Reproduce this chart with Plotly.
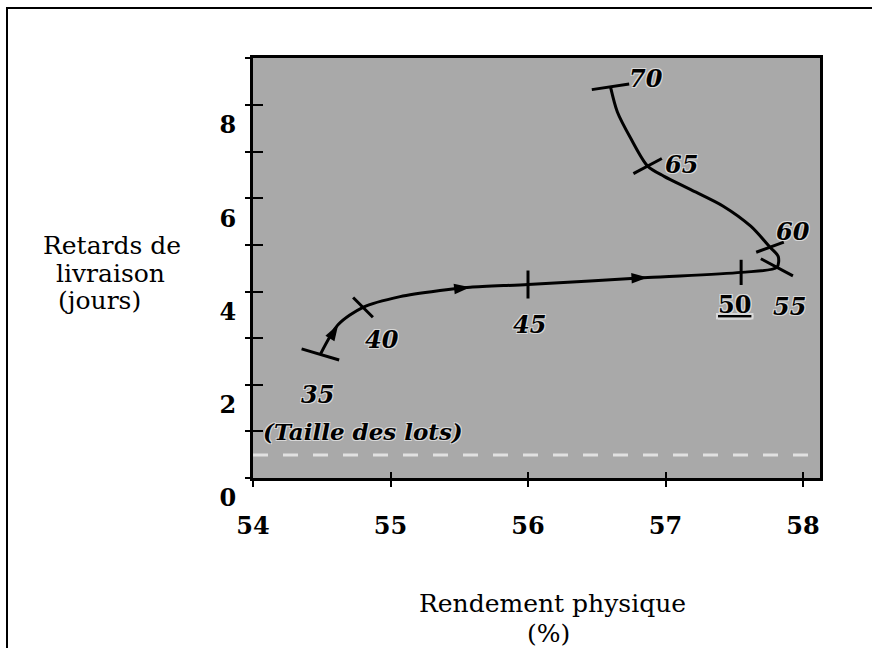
import plotly.graph_objects as go

# Lot sizes marked along the trajectory and the operating point for each one
lot_sizes = [35, 40, 45, 50, 55, 60, 65, 70]
rendement = [54.49, 54.80, 56.00, 57.55, 57.81, 57.76, 56.87, 56.60]
retards = [2.65, 3.66, 4.15, 4.41, 4.52, 4.95, 6.69, 8.39]

# Points traced along the trajectory (35 -> 70)
curve_x = [54.49, 54.62, 54.80, 55.07, 55.36, 55.58, 56.00, 56.87, 57.55,
           57.81, 57.82, 57.76, 57.62, 57.42, 57.18, 56.99, 56.87, 56.75,
           56.65, 56.60]
curve_y = [2.65, 3.29, 3.66, 3.89, 4.02, 4.09, 4.15, 4.30, 4.41,
           4.52, 4.75, 4.95, 5.40, 5.83, 6.19, 6.47, 6.69, 7.27,
           7.85, 8.39]

# Direction arrows on the trajectory
arrow_x = [54.62, 55.58, 56.87]
arrow_y = [3.29, 4.09, 4.30]

x_ticks = [54, 55, 56, 57, 58]
y_ticks = [0, 2, 4, 6, 8]
y_minor = [0, 1, 2, 3, 4, 5, 6, 7, 8, 9]

# ---- styling -------------------------------------------------------------
FONT = "DejaVu Serif"
BG = "#a9a9a9"
tick_angles = [-73.5, -45, 0, 0, -62, 70, 62, 81.5]
tick_sizes = [28, 20, 20, 18, 26, 21, 23, 27]
arrow_angles = [31, 84, 87]
label_shift = [(-3, -40), (19, -32), (1, -40), (-7, -32),
               (13, -39), (23, 16), (34, 2), (35, 8)]
HALO = ("1px 1px 0 #d8d8d8, -1px -1px 0 #d8d8d8, "
        "1px -1px 0 #d8d8d8, -1px 1px 0 #d8d8d8")

# plot area in pixels
L, R, T, B = 253, 820, 58, 478
W_PX, H_PX = 872, 648
X_PER_UNIT = (802.7 - 252.7) / 4.0
Y_PER_UNIT = (478 - 105) / 8.0


def px(xp):
    return (xp - L) / (R - L)


def py(yp):
    return (B - yp) / (B - T)


x_range = [54, 54 + (R - L) / X_PER_UNIT]
y_range = [0, (B - T) / Y_PER_UNIT]

fig = go.Figure()

fig.add_trace(go.Scatter(
    x=curve_x, y=curve_y, mode="lines",
    line=dict(color="black", width=3, shape="spline", smoothing=0.8),
    hoverinfo="skip", showlegend=False,
))

fig.add_trace(go.Scatter(
    x=rendement, y=retards, mode="markers",
    marker=dict(symbol="line-ns", size=tick_sizes, angle=tick_angles,
                color="black", opacity=1,
                line=dict(color="black", width=3)),
    text=[str(v) for v in lot_sizes], hoverinfo="text", showlegend=False,
))

fig.add_trace(go.Scatter(
    x=arrow_x, y=arrow_y, mode="markers",
    marker=dict(symbol="arrow", size=17, angle=arrow_angles,
                color="black", opacity=1, line=dict(width=0)),
    hoverinfo="skip", showlegend=False,
))

# companion axes carrying the inner half of the tick marks
fig.add_trace(go.Scatter(x=[None], y=[None], xaxis="x2", yaxis="y2",
                         showlegend=False, hoverinfo="skip"))

annotations = []
for i, n in enumerate(lot_sizes):
    dx, dy = label_shift[i]
    if n == 50:
        txt = "<u><b>50</b></u>"
        style = "normal"
    else:
        txt = str(n)
        style = "italic"
    annotations.append(dict(
        x=rendement[i], y=retards[i], xref="x", yref="y",
        text=txt, showarrow=False, xshift=dx, yshift=dy,
        font=dict(family=FONT, size=24, color="black", style=style,
                  weight="bold", shadow=HALO),
    ))

annotations.append(dict(
    x=rendement[0], y=retards[0], xref="x", yref="y",
    text="(Taille des lots)", showarrow=False, xshift=43, yshift=-77,
    font=dict(family=FONT, size=23, color="black", style="italic",
              weight="bold", shadow=HALO),
))

# axis titles
for txt, cx, cy in [("Retards de", 112, 246), ("livraison", 110, 273),
                    ("(jours)", 99, 300)]:
    annotations.append(dict(
        x=px(cx), y=py(cy), xref="paper", yref="paper", text=txt,
        showarrow=False, xanchor="center", yanchor="middle",
        font=dict(family=FONT, size=25, color="black"),
    ))
for txt, cx, cy in [("Rendement physique", 552, 603), ("(%)", 548, 633)]:
    annotations.append(dict(
        x=px(cx), y=py(cy), xref="paper", yref="paper", text=txt,
        showarrow=False, xanchor="center", yanchor="middle",
        font=dict(family=FONT, size=25, color="black"),
    ))

shapes = [
    # outer frame
    dict(type="rect", xref="paper", yref="paper",
         x0=px(7), x1=px(885), y0=py(665), y1=py(8),
         line=dict(color="black", width=2), fillcolor="rgba(0,0,0,0)",
         layer="below"),
    # light streak across the shaded area
    dict(type="line", xref="paper", yref="paper",
         x0=0, x1=1, y0=py(455), y1=py(455),
         line=dict(color="rgba(255,255,255,0.65)", width=3, dash="longdash")),
]

axis_font = dict(family=FONT, size=24, color="black", weight="bold")

fig.update_layout(
    width=W_PX, height=H_PX,
    margin=dict(l=L, r=W_PX - R, t=T, b=H_PX - B, pad=0),
    paper_bgcolor="white", plot_bgcolor=BG,
    showlegend=False,
    annotations=annotations, shapes=shapes,
    xaxis=dict(
        range=x_range, tickmode="array", tickvals=x_ticks,
        ticktext=[str(v) for v in x_ticks],
        ticks="outside", ticklen=6, tickwidth=2, tickcolor="black",
        showline=True, linecolor="black", linewidth=2.5, mirror=True,
        showgrid=False, zeroline=False, tickfont=axis_font,
        ticklabelstandoff=18,
    ),
    yaxis=dict(
        range=y_range, tickmode="array", tickvals=y_ticks,
        ticktext=[str(v) for v in y_ticks],
        ticks="outside", ticklen=5, tickwidth=2, tickcolor="black",
        minor=dict(tickmode="array", tickvals=y_minor, ticks="outside",
                   ticklen=5, tickwidth=2, tickcolor="black"),
        showline=True, linecolor="black", linewidth=3, mirror=True,
        showgrid=False, zeroline=False, tickfont=axis_font,
        ticklabelstandoff=4, ticklabelshift=20,
    ),
    xaxis2=dict(
        range=x_range, overlaying="x", anchor="y", side="bottom",
        tickmode="array", tickvals=x_ticks, ticks="inside", ticklen=6,
        tickwidth=2, tickcolor="black", showticklabels=False,
        showline=False, showgrid=False, zeroline=False,
    ),
    yaxis2=dict(
        range=y_range, overlaying="y", anchor="x", side="left",
        tickmode="array", tickvals=y_minor, ticks="inside", ticklen=10,
        tickwidth=2, tickcolor="black", showticklabels=False,
        showline=False, showgrid=False, zeroline=False,
    ),
)

fig.write_html("out.html")
